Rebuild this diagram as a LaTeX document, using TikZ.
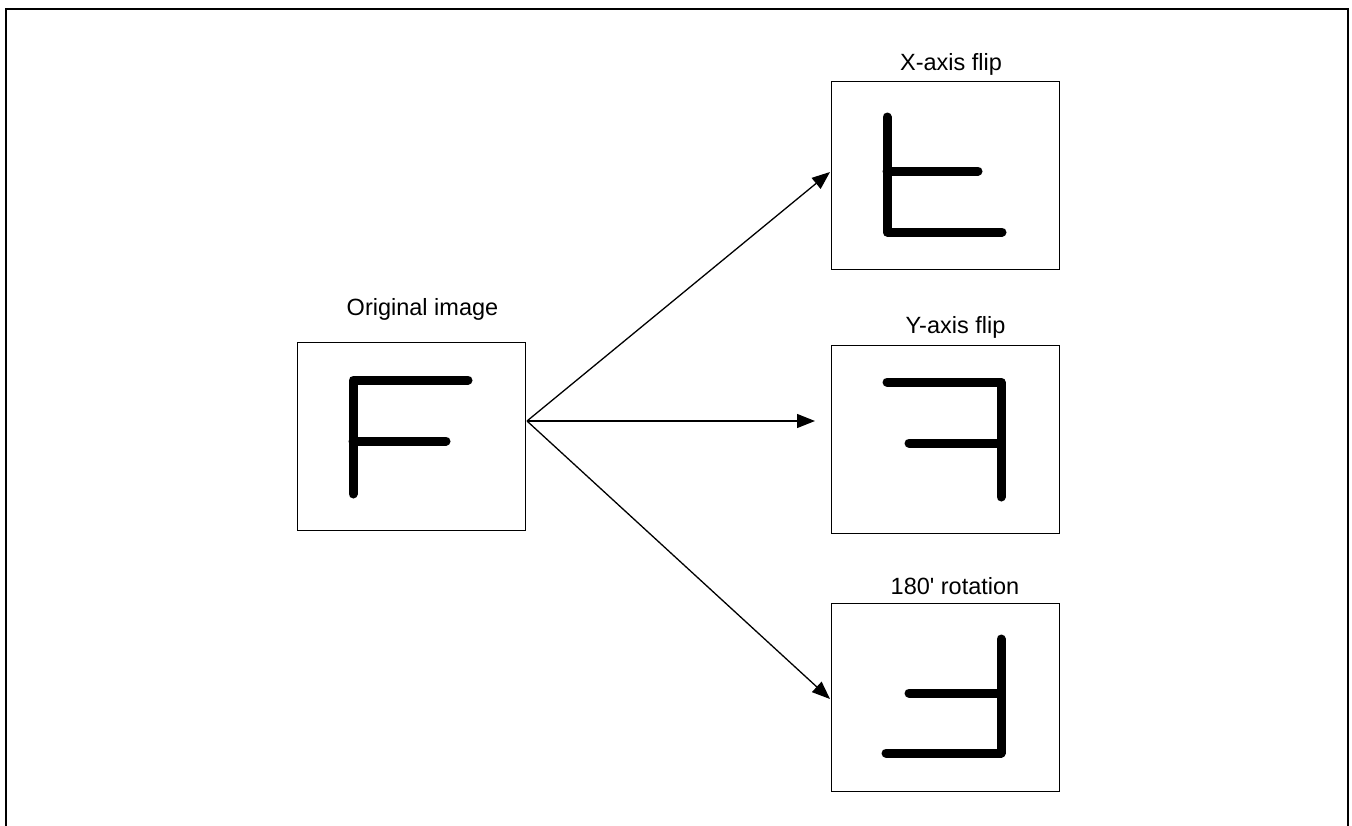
\documentclass[tikz,border=0pt]{standalone}
\usepackage{fontspec}
\setmainfont{Liberation Sans}
\usetikzlibrary{arrows.meta}
\newcommand{\straightquote}{\XeTeXglyph\the\XeTeXglyphindex "quotesingle"\relax}
\begin{document}
\begin{tikzpicture}[x=1pt,y=-1pt,
  frame/.style={line width=2.2pt},
  imgbox/.style={draw,line width=1.3pt,minimum width=228pt,minimum height=188pt,inner sep=0pt,anchor=north west},
  lbl/.style={anchor=base,inner sep=0pt,font=\fontsize{23.5}{28}\selectfont},
  glyph/.style={line width=9pt,line cap=round,line join=round},
  conn/.style={line width=1.3pt,-{Triangle[length=18pt,width=14pt]}}]
\useasboundingbox (0,0) rectangle (1352,825);
\draw[frame] (6,826) -- (6,9) -- (1348,9) -- (1348,826);
% boxes
\node[imgbox] (orig) at (297,342) {};
\node[imgbox] (xflip) at (831,81) {};
\node[imgbox] (yflip) at (831,345) {};
\node[imgbox] (rot) at (831,603) {};
% labels
\node[lbl] (lorig) at (422.5,315) {Original image};
\node[lbl] (lx) at (951,70) {X-axis flip};
\node[lbl] (ly) at (955.5,333) {Y-axis flip};
\node[lbl] (lr) at (955,594) {180\straightquote{} rotation};
% glyphs
\draw[glyph] (468,380) -- (353,380) -- (353,494);
\draw[glyph] (353,441) -- (446,441);
\draw[glyph] (887,117) -- (887,232) -- (1002,232);
\draw[glyph] (887,171) -- (978,171);
\draw[glyph] (887,382) -- (1001,382) -- (1001,497);
\draw[glyph] (909,443) -- (1001,443);
\draw[glyph] (1001,639) -- (1001,753) -- (886,753);
\draw[glyph] (909,693) -- (1001,693);
% connectors
\coordinate (src) at (527,421);
\coordinate (tx) at (830,172);
\coordinate (ty) at (815,421);
\coordinate (tr) at (830,699);
\draw[conn] (src) -- (tx);
\draw[conn] (src) -- (ty);
\draw[conn] (src) -- (tr);
\end{tikzpicture}
\end{document}
